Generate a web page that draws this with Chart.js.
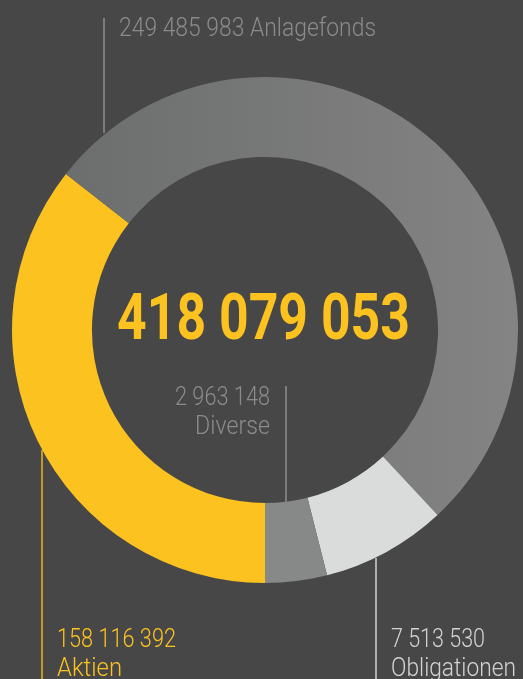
<!DOCTYPE html>
<html>
<head>
<meta charset="utf-8">
<script src="https://cdn.jsdelivr.net/npm/chart.js@4"></script>
<style>
  html, body { margin: 0; padding: 0; background: #474747; }
  #wrap { width: 523px; height: 679px; }
</style>
</head>
<body>
<div id="wrap"><canvas id="c" width="523" height="679"></canvas></div>
<script>
// categories, in drawing order (clockwise from 6 o'clock)
var categories = ["Aktien", "Anlagefonds", "Obligationen", "Diverse"];
// amounts printed on the chart
var amounts = [158116392, 249485983, 7513530, 2963148];
// slice sizes as drawn in the picture (degrees, small slices are enlarged)
var sliceDegrees = [128.1, 188.9, 28.8, 14.2];
var sliceColors = ["#fcc21f", null, "#d9dcdb", "#878988"];

function fmt(v) {
  return String(v).replace(/\B(?=(\d{3})+(?!\d))/g, " ");
}
var total = amounts.reduce(function(a, b) { return a + b; }, 0);

// draws a condensed text by squeezing it to a given width
function squeezeText(ctx, text, x, y, width, font, color, align) {
  ctx.save();
  ctx.font = font;
  ctx.fillStyle = color;
  ctx.textBaseline = "alphabetic";
  ctx.textAlign = "left";
  var w = ctx.measureText(text).width;
  var sx = width / w;
  var left = align === "right" ? x - width : (align === "center" ? x - width / 2 : x);
  ctx.translate(left, y);
  ctx.scale(sx, 1);
  ctx.fillText(text, 0, 0);
  ctx.restore();
}

function vline(ctx, x, y1, y2, color) {
  ctx.save();
  ctx.strokeStyle = color;
  ctx.lineWidth = 1.5;
  ctx.beginPath();
  ctx.moveTo(x, y1);
  ctx.lineTo(x, y2);
  ctx.stroke();
  ctx.restore();
}

var labelPlugin = {
  id: "labels",
  afterDraw: function(chart) {
    var ctx = chart.ctx;
    var light = "300 26px Roboto, 'Liberation Sans', sans-serif";
    var grey = "#8b8b8b";
    var yellow = "#fcc21f";

    // Anlagefonds
    vline(ctx, 104, 18, 133, "#8e8e8e");
    squeezeText(ctx, fmt(amounts[1]) + " " + categories[1], 119, 36, 257, light, grey, "left");

    // Diverse
    vline(ctx, 286, 386, 502, "#8e8e8e");
    squeezeText(ctx, fmt(amounts[3]), 270, 405, 95, light, grey, "right");
    squeezeText(ctx, categories[3], 270, 433.5, 75, light, grey, "right");

    // Aktien
    vline(ctx, 42, 450, 679, "#e8b523");
    squeezeText(ctx, fmt(amounts[0]), 57, 646.5, 119, light, yellow, "left");
    squeezeText(ctx, categories[0], 57, 676, 65, light, yellow, "left");

    // Obligationen
    vline(ctx, 376, 558, 679, "#d2d3d2");
    squeezeText(ctx, fmt(amounts[2]), 391, 646.5, 94, light, "#d2d3d2", "left");
    squeezeText(ctx, categories[2], 391, 676, 125, light, "#d2d3d2", "left");

    // total in the centre
    squeezeText(ctx, fmt(total), 263.5, 339, 293, "bold 64px Roboto, 'Liberation Sans', sans-serif", yellow, "center");
  }
};

new Chart(document.getElementById("c"), {
  type: "doughnut",
  data: {
    labels: categories,
    datasets: [{
      data: sliceDegrees,
      borderWidth: 0,
      backgroundColor: function(context) {
        var i = context.dataIndex;
        if (sliceColors[i]) return sliceColors[i];
        var area = context.chart.chartArea;
        if (!area) return "#7a7b7a";
        var g = context.chart.ctx.createLinearGradient(area.left + 50, 0, area.right, 0);
        g.addColorStop(0, "#6c6e6d");
        g.addColorStop(1, "#838483");
        return g;
      }
    }]
  },
  options: {
    responsive: false,
    animation: false,
    rotation: 180,
    cutout: "68.4%",
    layout: { padding: { left: 12, right: 5, top: 77, bottom: 96 } },
    plugins: {
      legend: { display: false },
      tooltip: { enabled: false }
    }
  },
  plugins: [labelPlugin]
});
</script>
</body>
</html>
